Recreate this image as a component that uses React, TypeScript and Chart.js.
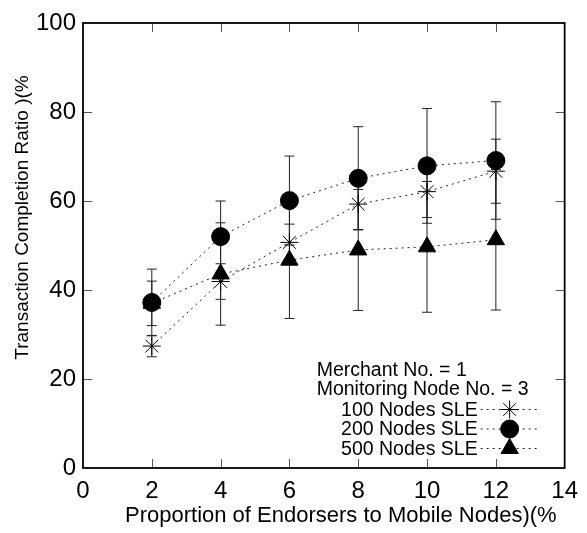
import React, { useEffect, useRef } from "react";
import { Chart, registerables } from "chart.js";
import { drawPoint } from "chart.js/helpers";

Chart.register(...registerables);

const xValues = [2, 4, 6, 8, 10, 12];
const s100 = [27.4, 41.9, 50.7, 59.3, 62.1, 66.7];
const e100 = [2.4, 4.0, 4.1, 5.7, 5.8, 7.2];
const s200 = [37.2, 52.0, 60.1, 65.1, 67.9, 69.1];
const e200 = [7.5, 8.0, 10.0, 11.6, 12.9, 13.2];
const s500 = [37.0, 43.6, 46.7, 49.0, 49.7, 51.3];
const e500 = [5.0, 11.5, 13.1, 13.6, 14.7, 15.8];

const seriesLabels = ["100 Nodes SLE", "200 Nodes SLE", "500 Nodes SLE"];
const legendTitle = ["Merchant No. = 1", "Monitoring Node No. = 3"];
const xTitle = "Proportion of Endorsers to Mobile Nodes)(%";
const yTitle = "Transaction Completion Ratio )(%";

const FONT = "'Liberation Sans', Arial, Helvetica, sans-serif";

const pointStyles = ["star", "circle", "triangle"];
const pointRadii = [9, 9, 10];

const framePlugin = {
  id: "frameTicks",
  beforeDatasetsDraw(chart: any) {
    const { ctx, scales } = chart;
    ctx.save();
    chart.data.datasets.forEach((ds: any) => {
      const errs = ds.errors as number[];
      ds.data.forEach((p: any, j: number) => {
        const px = scales.x.getPixelForValue(p.x);
        const y1 = scales.y.getPixelForValue(p.y - errs[j]);
        const y2 = scales.y.getPixelForValue(p.y + errs[j]);
        ctx.strokeStyle = "#222";
        ctx.lineWidth = 1;
        ctx.setLineDash([]);
        ctx.beginPath();
        ctx.moveTo(px, y1);
        ctx.lineTo(px, y2);
        ctx.moveTo(px - 5, y1);
        ctx.lineTo(px + 5, y1);
        ctx.moveTo(px - 5, y2);
        ctx.lineTo(px + 5, y2);
        ctx.stroke();
      });
    });
    ctx.restore();
  },
  afterDraw(chart: any) {
    const { ctx, chartArea, scales } = chart;
    const { left, right, top, bottom } = chartArea;
    ctx.save();
    ctx.strokeStyle = "#555";
    ctx.lineWidth = 1;
    const tl = 9;
    scales.x.ticks.forEach((t: any) => {
      const px = Math.round(scales.x.getPixelForValue(t.value)) + 0.5;
      if (px <= left + 1 || px >= right - 1) return;
      ctx.beginPath();
      ctx.moveTo(px, bottom);
      ctx.lineTo(px, bottom - tl);
      ctx.moveTo(px, top);
      ctx.lineTo(px, top + tl);
      ctx.stroke();
    });
    scales.y.ticks.forEach((t: any) => {
      const py = Math.round(scales.y.getPixelForValue(t.value)) + 0.5;
      if (py <= top + 1 || py >= bottom - 1) return;
      ctx.beginPath();
      ctx.moveTo(left, py);
      ctx.lineTo(left + tl, py);
      ctx.moveTo(right, py);
      ctx.lineTo(right - tl, py);
      ctx.stroke();
    });
    ctx.strokeStyle = "#000";
    ctx.lineWidth = 1.8;
    ctx.strokeRect(left, top, right - left, bottom - top);

    ctx.fillStyle = "#000";
    ctx.font = `22px ${FONT}`;
    ctx.textAlign = "center";
    ctx.textBaseline = "middle";
    ctx.fillText(xTitle, (left + right) / 2 + 17, bottom + 48);
    ctx.save();
    ctx.translate(left - 60, (top + bottom) / 2 - 28);
    ctx.rotate(-Math.PI / 2);
    ctx.font = `19px ${FONT}`;
    ctx.fillText(yTitle, 0, 0);
    ctx.restore();

    ctx.font = `19.5px ${FONT}`;
    ctx.textBaseline = "middle";
    ctx.textAlign = "left";
    const lh = 19.5;
    const baseY = bottom - 19.5;
    legendTitle.forEach((t, i) => {
      ctx.fillText(t, right - 248, baseY - lh * (4 - i));
    });
    chart.data.datasets.forEach((ds: any, i: number) => {
      const y = baseY - lh * (2 - i);
      ctx.textAlign = "right";
      ctx.fillStyle = "#000";
      ctx.fillText(ds.label, right - 87, y + 1);
      ctx.strokeStyle = "#222";
      ctx.lineWidth = 1;
      ctx.setLineDash([2, 4]);
      ctx.beginPath();
      ctx.moveTo(right - 84, y);
      ctx.lineTo(right - 27, y);
      ctx.stroke();
      ctx.setLineDash([]);
      ctx.fillStyle = "#000";
      ctx.strokeStyle = "#000";
      ctx.lineWidth = 1;
      drawPoint(ctx, { pointStyle: ds.pointStyle, radius: ds.pointRadius, borderWidth: 1, rotation: 0 }, right - 55, y);
    });
    ctx.restore();
  },
};

export default function App() {
  const ref = useRef<HTMLCanvasElement>(null);
  useEffect(() => {
    document.body.style.margin = "0";
    const mk = (i: number, vals: number[], errs: number[]) => ({
      label: seriesLabels[i],
      data: xValues.map((x, j) => ({ x, y: vals[j] })),
      errors: errs,
      borderColor: "#222",
      borderWidth: 1,
      borderDash: [2, 4],
      backgroundColor: "#000",
      pointStyle: pointStyles[i],
      pointRadius: pointRadii[i],
      pointBorderColor: "#000",
      pointBackgroundColor: "#000",
      pointBorderWidth: 1,
      fill: false,
      tension: 0,
    });
    const chart = new Chart(ref.current!, {
      type: "line",
      data: {
        datasets: [mk(0, s100, e100), mk(1, s200, e200), mk(2, s500, e500)] as any,
      },
      options: {
        responsive: false,
        animation: false,
        layout: { padding: { left: 0, right: 20, top: 23, bottom: 0 } },
        plugins: { legend: { display: false }, tooltip: { enabled: false } },
        scales: {
          x: {
            type: "linear",
            min: 0,
            max: 14,
            afterFit: (s: any) => {
              s.height = 65;
            },
            ticks: {
              stepSize: 2,
              padding: 9,
              color: "#000",
              font: { family: FONT, size: 24 },
            },
            grid: { display: false, drawTicks: false },
            border: { display: false },
          },
          y: {
            type: "linear",
            min: 0,
            max: 100,
            afterFit: (s: any) => {
              s.width = 83;
            },
            ticks: {
              stepSize: 20,
              padding: 7,
              color: "#000",
              font: { family: FONT, size: 24 },
            },
            grid: { display: false, drawTicks: false },
            border: { display: false },
          },
        },
      } as any,
      plugins: [framePlugin],
    });
    return () => chart.destroy();
  }, []);
  return (
    <div style={{ width: 587, height: 533 }}>
      <canvas ref={ref} width={587} height={533} style={{ display: "block" }} />
    </div>
  );
}
